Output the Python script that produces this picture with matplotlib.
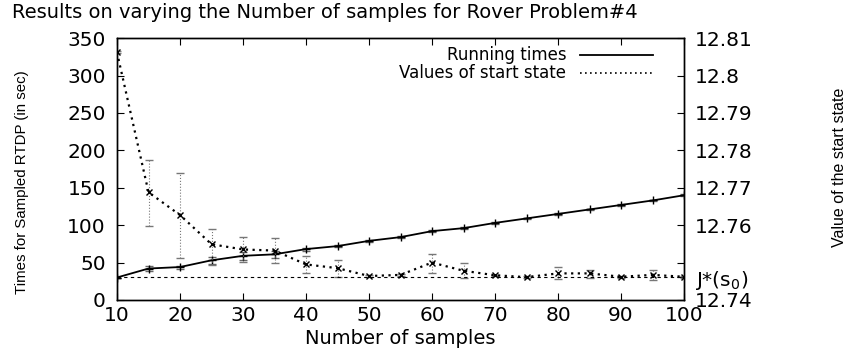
import matplotlib
matplotlib.use('Agg')
import matplotlib.pyplot as plt

# data
samples = [10, 15, 20, 25, 30, 35, 40, 45, 50, 55, 60, 65, 70, 75, 80, 85, 90, 95, 100]
run_times = [30, 42, 44, 53, 59, 61, 68, 72, 79, 84, 92, 96, 103, 109, 115, 121, 127, 133, 140]
run_err = [0, 3, 2, 5, 5, 5, 2, 1, 1, 1, 1, 1, 1, 1, 1, 1, 1, 1, 1]

start_val = [12.8062, 12.7688, 12.7627, 12.7549, 12.7535, 12.7532, 12.7495, 12.7485, 12.7464,
             12.7467, 12.7500, 12.7478, 12.7466, 12.7461, 12.7471, 12.7471, 12.7462, 12.7467, 12.7462]
start_lo = [12.8059, 12.7598, 12.7511, 12.7493, 12.7502, 12.7500, 12.7473, 12.7462, 12.7462,
            12.7465, 12.7471, 12.7458, 12.7464, 12.7459, 12.7455, 12.7458, 12.7460, 12.7453, 12.7460]
start_hi = [12.8065, 12.7774, 12.7740, 12.7591, 12.7569, 12.7565, 12.7517, 12.7507, 12.7466,
            12.7469, 12.7524, 12.7498, 12.7468, 12.7463, 12.7487, 12.7480, 12.7464, 12.7480, 12.7464]
j_star = 12.7461

plt.rcParams['font.family'] = ['DejaVu Sans']
plt.rcParams['xtick.direction'] = 'in'
plt.rcParams['ytick.direction'] = 'in'

fig = plt.figure(figsize=(8.54, 3.5), dpi=100)
ax = fig.add_axes([0.137, 0.143, 0.664, 0.748])
ax2 = ax.twinx()

# running times (left axis)
ax.errorbar(samples, run_times, yerr=run_err, color='black', lw=1.3, marker='+', ms=6,
            ecolor='#666666', elinewidth=0.8, capsize=3, zorder=3)
for c in ax.collections:
    c.set_linestyle(':')
ln1, = ax.plot([], [], color='black', lw=1.3)

# values of start state (right axis)
err_lo = [v - l for v, l in zip(start_val, start_lo)]
err_hi = [h - v for v, h in zip(start_val, start_hi)]
eb = ax2.errorbar(samples, start_val, yerr=[err_lo, err_hi], color='black', lw=1.6, ls=(0, (1, 2)),
                  marker='x', ms=5, ecolor='#777777', elinewidth=0.8, capsize=3)
eb[2][0].set_linestyle(':')
ax2.axhline(j_star, color='black', lw=0.8, ls=(0, (3, 3)))
ln2, = ax2.plot([], [], color='black', lw=1.2, ls=(0, (1, 2)))

ax.set_xlim(10, 100)
ax.set_ylim(0, 350)
ax2.set_ylim(12.74, 12.81)
ax.set_xticks(range(10, 101, 10))
ax.set_yticks(range(0, 351, 50))
rticks = [12.74, 12.75, 12.76, 12.77, 12.78, 12.79, 12.80, 12.81, j_star]
rlabels = ['12.74', '', '12.76', '12.77', '12.78', '12.79', '12.8', '12.81', 'J*(s$_0$)']
ax2.set_yticks(rticks)
ax2.set_yticklabels(rlabels)

ax.tick_params(axis='x', labelsize=14.5, length=5, width=0.8, pad=4, top=True)
ax.tick_params(axis='y', labelsize=14.5, length=5, width=0.8, pad=8)
ax2.tick_params(axis='y', labelsize=14.5, length=5, width=0.8, pad=8)
for a in (ax, ax2):
    for s in a.spines.values():
        s.set_linewidth(1.0)

ax.legend([ln1, ln2], ['Running times', 'Values of start state'], loc='upper right',
          bbox_to_anchor=(0.96, 1.0), frameon=False, fontsize=12, markerfirst=False,
          handlelength=4.4, borderpad=0.0, labelspacing=0.0, handletextpad=0.8)

fig.text(325 / 854, 1 - 13 / 350, 'Results on varying the Number of samples for Rover Problem#4',
         ha='center', va='center', fontsize=14)
fig.text(400 / 854, 1 - 338 / 350, 'Number of samples', ha='center', va='center', fontsize=14)
fig.text(22 / 854, 1 - 182 / 350, 'Times for Sampled RTDP (in sec)', rotation=90,
         ha='center', va='center', fontsize=10.8, family=['Liberation Sans', 'DejaVu Sans'])
fig.text(840 / 854, 1 - 167 / 350, 'Value of the start state', rotation=90,
         ha='center', va='center', fontsize=11.5, family=['Liberation Sans', 'DejaVu Sans'])

fig.savefig('out.png', dpi=100)
